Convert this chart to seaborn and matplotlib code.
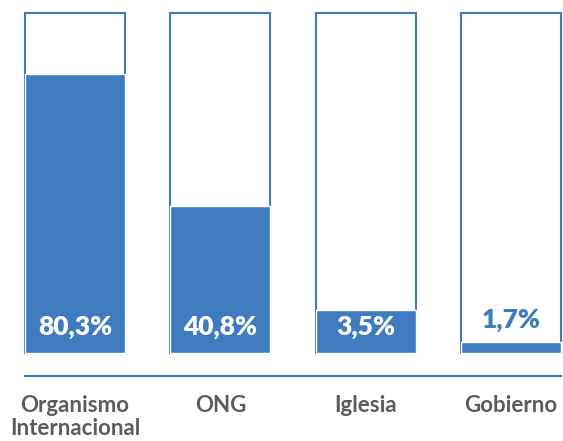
import matplotlib
matplotlib.use('Agg')
import matplotlib.pyplot as plt
import seaborn as sns

## DATA
categories = ['Organismo\nInternacional', 'ONG', 'Iglesia', 'Gobierno']
value_labels = ['80,3%', '40,8%', '3,5%', '1,7%']
# fill levels as drawn in the reference (on a 0-100 box)
fill_levels = [82.0, 43.2, 12.6, 3.1]
box_levels = [100, 100, 100, 100]

blue = '#407bbf'
gray = '#5b5b5b'

sns.set_theme(style='white')
plt.rcParams['font.family'] = ['Lato', 'DejaVu Sans']

fig = plt.figure(figsize=(5.63, 4.41), dpi=100)
ax = fig.add_axes([25 / 563, 1 - 375.7 / 441, 536 / 563, (375.7 - 13.3) / 441])

#### outline boxes, then filled part
sns.barplot(x=categories, y=box_levels, fill=False, color=blue, linewidth=1.5,
            width=0.688, ax=ax)
sns.barplot(x=categories, y=fill_levels, color=blue, saturation=1,
            width=0.688, ax=ax)
for p in ax.patches:
    p.set_clip_on(False)

#### value labels
for i, (lvl, lab) in enumerate(zip(fill_levels, value_labels)):
    if lvl > 10:
        ax.text(i, 5.4, lab, ha='center', va='baseline', color='white',
                fontsize=19, fontweight='heavy')
    else:
        ax.text(i, lvl + 4.2, lab, ha='center', va='baseline', color=blue,
                fontsize=19, fontweight='heavy')

#### format
ax.set_xlim(-0.344, 3.344)
ax.set_ylim(-6.76, 100)
ax.set_yticks([])
ax.set_xlabel('')
ax.set_ylabel('')
for s in ['left', 'right', 'top']:
    ax.spines[s].set_visible(False)
ax.spines['bottom'].set_color(blue)
ax.spines['bottom'].set_linewidth(1.5)
ax.tick_params(axis='x', length=0, pad=14)
for t in ax.get_xticklabels():
    t.set_fontsize(16)
    t.set_fontweight('bold')
    t.set_color(gray)
    t.set_linespacing(1.1)

fig.savefig('out.png', dpi=100)
